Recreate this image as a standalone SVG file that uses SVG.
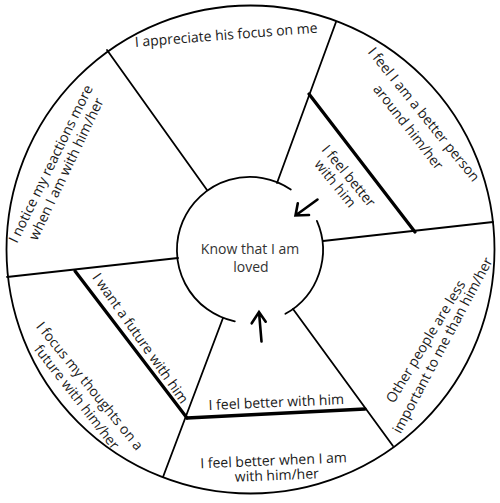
<svg xmlns="http://www.w3.org/2000/svg" width="500" height="503" viewBox="0 0 500 503">
<style>
.ln{stroke:#000;stroke-width:1.8;fill:none;stroke-linecap:round}
.thick{stroke:#000;stroke-width:3.3;fill:none;stroke-linecap:round}
.arr{stroke:#000;stroke-width:2.6;fill:none;stroke-linecap:round;stroke-linejoin:miter}
.t{font-family:"Open Sans","DejaVu Sans",sans-serif;font-size:14px;fill:#1a1a1a;text-anchor:middle}
.c{fill:#333}
</style>
<rect width="500" height="503" fill="#fff"/>
<g id="wheel">
<circle cx="250.5" cy="249.5" r="244" class="ln"/>
</g>
<g id="connectors">
<path class="ln" d="M207,190 L107,50"/>
<path class="ln" d="M277,183 L336,22"/>
<path class="ln" d="M323,241 L493,222"/>
<path class="ln" d="M178,258 L7,277"/>
<path class="ln" d="M223,318 L163,477"/>
<path class="ln" d="M293,309 L393,446"/>
<path class="thick" d="M309,94 L415,232"/>
<path class="thick" d="M75,271 L187,418"/>
<path class="thick" d="M187,418 L365,409"/>
<path class="arr" d="M317.5,199.5 L295.5,215.5 M297.8,203.3 L295.5,215.5 L309,215"/>
<path class="arr" d="M261.5,341.5 L259,312 M251.7,323.3 L259,312 L265.7,321.7"/>
</g>
<g id="center">
<path class="ln" d="M234.8,321.4 A73,73 0 1 1 290.8,189.5 M316.9,220.9 A73,73 0 0 1 285.4,313.8"/>
<text class="t c" x="250" y="254">Know that I am</text>
<text class="t c" x="251" y="272">loved</text>
</g>
<g id="seg-focus">
<text class="t" transform="translate(226.5,39.7) rotate(-4.5)">I appreciate his focus on me</text>
</g>
<g id="seg-better-person">
<text class="t" transform="translate(420,117.5) rotate(51)">I feel I am a better person</text>
<text class="t" transform="translate(404.5,130) rotate(52)">around him/her</text>
</g>
<g id="seg-feel-better-1">
<text class="t" transform="translate(345,179) rotate(50.5)">I feel better</text>
<text class="t" transform="translate(331.5,186.5) rotate(51)">with him</text>
</g>
<g id="seg-notice">
<text class="t" transform="translate(55,166) rotate(-64)">I notice my reactions more</text>
<text class="t" transform="translate(70.5,171) rotate(-64.5)">when I am with him/her</text>
</g>
<g id="seg-want-future">
<text class="t" transform="translate(136.5,341) rotate(54.8)">I want a future with him</text>
</g>
<g id="seg-focus-future">
<text class="t" transform="translate(86,389) rotate(51)">I focus my thoughts on a</text>
<text class="t" transform="translate(73,400) rotate(52)">future with him/her</text>
</g>
<g id="seg-feel-better-2">
<text class="t" transform="translate(276.5,407) rotate(-2.5)">I feel better with him</text>
</g>
<g id="seg-feel-better-when">
<text class="t" transform="translate(273.7,465.3) rotate(-2.4)">I feel better when I am</text>
<text class="t" transform="translate(277,480) rotate(-2.4)">with him/her</text>
</g>
<g id="seg-other-people">
<text class="t" transform="translate(429.8,344) rotate(-59)">Other people are less</text>
<text class="t" transform="translate(446.7,347.5) rotate(-62)">important to me than him/her</text>
</g>
</svg>
